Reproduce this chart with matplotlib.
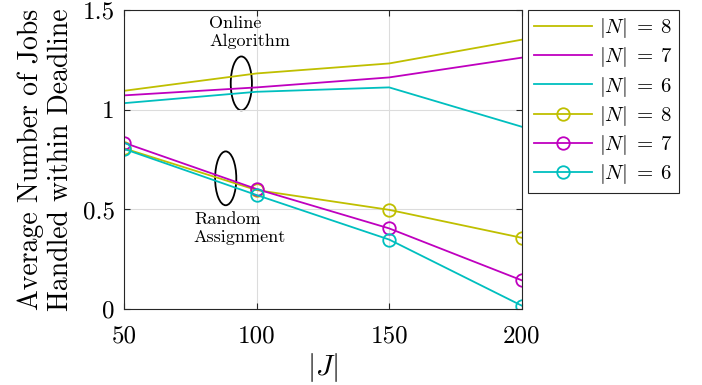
import matplotlib
matplotlib.use('Agg')
import matplotlib.pyplot as plt
from matplotlib.patches import Ellipse

plt.rcParams['font.family'] = 'serif'
plt.rcParams['font.serif'] = ['cmr10']
plt.rcParams['mathtext.fontset'] = 'cm'
plt.rcParams['axes.unicode_minus'] = False

# data
jobs = [50, 100, 150, 200]
online_n8 = [1.095, 1.182, 1.232, 1.351]
online_n7 = [1.072, 1.112, 1.162, 1.261]
online_n6 = [1.033, 1.090, 1.112, 0.915]
random_n8 = [0.806, 0.597, 0.498, 0.358]
random_n7 = [0.834, 0.602, 0.405, 0.145]
random_n6 = [0.803, 0.572, 0.349, 0.018]
labels = [r'$|N|\;=\;8$', r'$|N|\;=\;7$', r'$|N|\;=\;6$']
colors = ['#bfbf00', '#bf00bf', '#00bfbf']

fig = plt.figure(figsize=(7.02, 3.85), dpi=100)
ax = fig.add_axes([0.177, 0.197, 0.566, 0.777])

for ys, c, lab in zip([online_n8, online_n7, online_n6], colors, labels):
    ax.plot(jobs, ys, color=c, lw=1.3, label=lab)
for ys, c, lab in zip([random_n8, random_n7, random_n6], colors, labels):
    ax.plot(jobs, ys, color=c, lw=1.3, marker='o', ms=9, mfc='none',
            mew=1.3, label=lab)

# annotations
ax.add_patch(Ellipse((94.2, 1.132), 8, 0.27, fc='none', ec='k', lw=1.3))
ax.add_patch(Ellipse((88.3, 0.656), 8, 0.27, fc='none', ec='k', lw=1.3))
ax.text(82.0, 1.39, 'Online\nAlgorithm', ha='left', va='center', fontsize=13,
        linespacing=1.2)
ax.text(76.3, 0.406, 'Random\nAssignment', ha='left', va='center',
        fontsize=13, linespacing=1.2)

# axes properties
ax.set_xlim(50, 200)
ax.set_ylim(0, 1.5)
ax.set_xticks(jobs)
ax.set_xticklabels(['50', '100', '150', '200'])
ax.set_yticks([0, 0.5, 1, 1.5])
ax.set_yticklabels(['0', '0.5', '1', '1.5'])
ax.tick_params(labelsize=18, direction='in', top=True, right=True,
               length=4, color='#262626', pad=7)
ax.tick_params(axis='x', pad=12)
ax.grid(True, color='#dcdcdc', lw=0.8)
for s in ax.spines.values():
    s.set_color('#262626')
    s.set_linewidth(0.8)
ax.set_xlabel('$|J|$', fontsize=21, labelpad=2)
ax.set_ylabel('Average Number of Jobs\nHandled within Deadline',
              fontsize=20, linespacing=1.2, labelpad=6)

leg = fig.legend(loc='upper left', bbox_to_anchor=(528 / 702, 1 - 10 / 385),
                 fontsize=15, fancybox=False, framealpha=1,
                 edgecolor='#262626', handlelength=2.75, borderaxespad=0,
                 labelspacing=0.25, handletextpad=0.35, borderpad=0.3)
leg.get_frame().set_linewidth(0.8)

fig.savefig('out.png', dpi=100)
